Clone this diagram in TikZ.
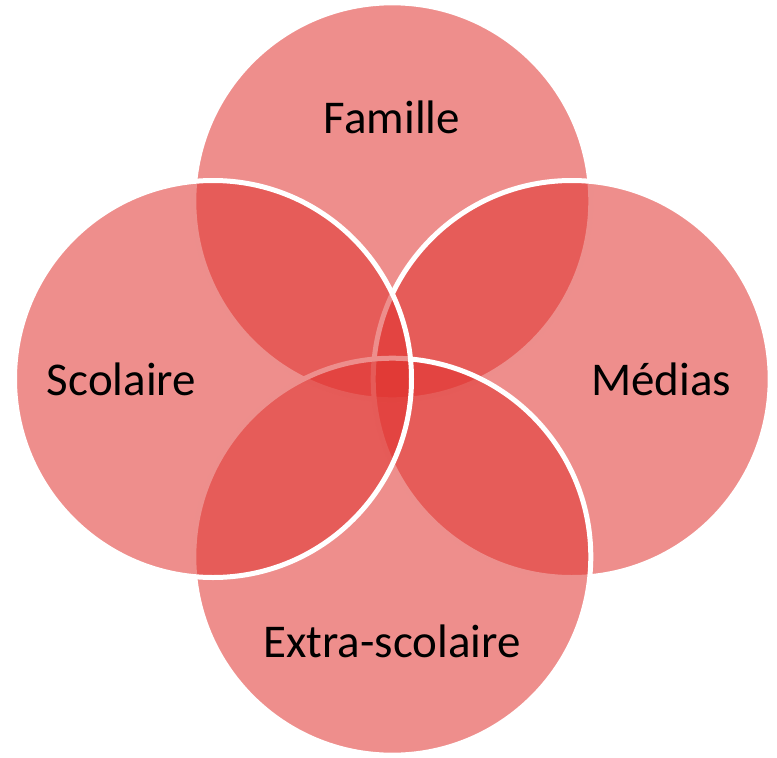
\documentclass[tikz,border=0pt]{standalone}
\usepackage{fontspec}
\setmainfont{Carlito}
\definecolor{vennred}{RGB}{224,50,46}
\tikzset{
  venn/.style={circle, draw=white, line width=5pt, fill=vennred, fill opacity=0.55, draw opacity=1, minimum size=397pt, inner sep=0pt, outer sep=0pt},
  vennlabel/.style={anchor=base, inner sep=0pt, text=black, font=\fontsize{47}{50}\selectfont}
}
\begin{document}
\begin{tikzpicture}[x=1pt,y=1pt]
\useasboundingbox (0,0) rectangle (777,-758);
\node[venn] (famille) at (392.3,-201.3) {};
\node[venn] (medias) at (571.7,-379) {};
\node[venn] (extra) at (392.3,-556.7) {};
\node[venn] (scolaire) at (213,-379) {};
\node[vennlabel] (tfamille) at (392,-133) {Famille};
\node[vennlabel] (tscolaire) at (121.5,-395) {Scolaire};
\node[vennlabel] (tmedias) at (661,-395) {Médias};
\node[vennlabel] (textra) at (392,-657) {Extra-scolaire};
\end{tikzpicture}
\end{document}
